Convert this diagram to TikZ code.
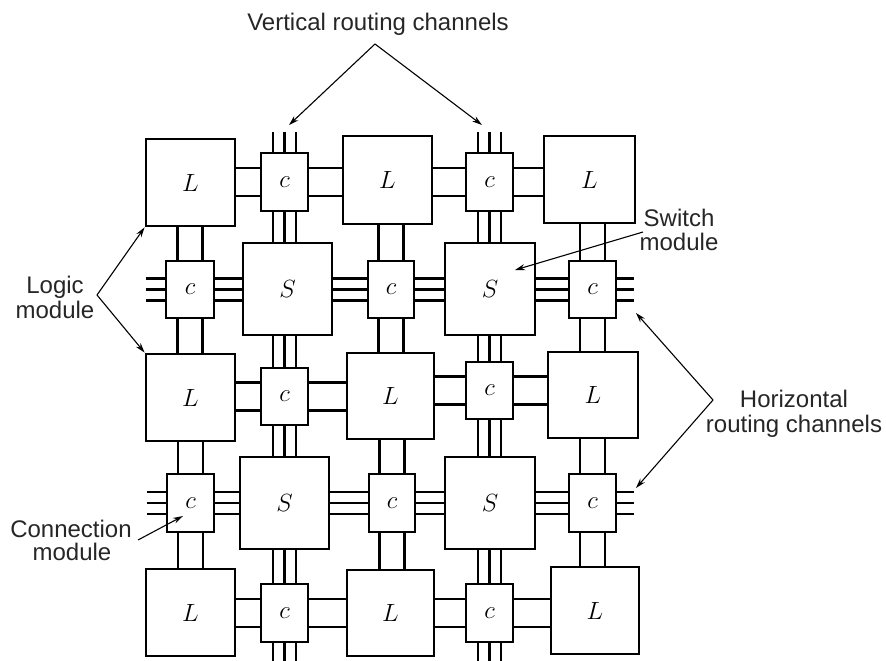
\documentclass[tikz,border=0pt]{standalone}
\usepackage{fontspec}
\setsansfont{Liberation Sans}
\usetikzlibrary{arrows.meta,calc}
\DeclareMathSizes{24}{24}{16}{12}
\tikzset{
  mod/.style={draw, line width=2.8pt, inner sep=0pt, fill=white, font=\fontsize{24}{24}\selectfont},
  wire/.style={line width=2.4pt},
  arr/.style={line width=1.1pt, -{Stealth[length=10pt,width=6pt]}},
  lab/.style={font=\sffamily\fontsize{24}{24}\selectfont, inner sep=0pt, anchor=base, text=black!85},
}
\newcommand\mybox[6]{\node[mod, minimum width={#4-#2}, minimum height={#5-#3}] (#1) at ({(#2+#4)/2},{(#3+#5)/2}) {$#6$};}
\newcommand\hwires[4]{\foreach \d in {#4} {\draw[wire] ($(#1.east |- #3.center)+(0,\d)$) -- ($(#2.west |- #3.center)+(0,\d)$);}}
\newcommand\vwires[4]{\foreach \d in {#4} {\draw[wire] ($(#3.center |- #1.south)+(\d,0)$) -- ($(#3.center |- #2.north)+(\d,0)$);}}
\begin{document}
\begin{tikzpicture}[x=1pt,y=-1pt]
\useasboundingbox (0,0) rectangle (886,661);
% row 1
\mybox{L11}{146}{139}{235}{226}{L}
\mybox{c11}{261}{153}{308}{211}{c}
\mybox{L12}{343}{136}{432}{224}{L}
\mybox{c12}{466}{153}{513}{211}{c}
\mybox{L13}{544}{136}{635}{223}{L}
% row 2
\mybox{c21}{166}{261}{214}{318}{c}
\mybox{S21}{243}{243}{332}{335}{S}
\mybox{c22}{368}{261}{414}{318}{c}
\mybox{S22}{445}{243}{535}{335}{S}
\mybox{c23}{569}{261}{616}{318}{c}
% row 3
\mybox{L31}{146}{354}{235}{441}{L}
\mybox{c31}{261}{368}{308}{425}{c}
\mybox{L32}{347}{353}{434}{439}{L}
\mybox{c32}{466}{362}{513}{419}{c}
\mybox{L33}{548}{352}{638}{438}{L}
% row 4
\mybox{c41}{167}{474}{214}{532}{c}
\mybox{S41}{240}{457}{329}{549}{S}
\mybox{c42}{369}{474}{415}{532}{c}
\mybox{S42}{445}{457}{535}{549}{S}
\mybox{c43}{569}{474}{616}{532}{c}
% row 5
\mybox{L51}{146}{569}{235}{656}{L}
\mybox{c51}{261}{584}{308}{642}{c}
\mybox{L52}{347}{570}{434}{656}{L}
\mybox{c52}{466}{584}{513}{642}{c}
\mybox{L53}{551}{567}{639}{654}{L}
% horizontal double wires (rows 1,3,5)
\foreach \r in {1,3,5}{
  \hwires{L\r1}{c\r1}{c\r1}{-14,14}
  \hwires{c\r1}{L\r2}{c\r1}{-14,14}
  \hwires{L\r2}{c\r2}{c\r2}{-14,14}
  \hwires{c\r2}{L\r3}{c\r2}{-14,14}
}
% horizontal triple wires (rows 2,4)
\foreach \r in {2,4}{
  \hwires{c\r1}{S\r1}{c\r1}{-11,0,11}
  \hwires{S\r1}{c\r2}{c\r2}{-11,0,11}
  \hwires{c\r2}{S\r2}{c\r2}{-11,0,11}
  \hwires{S\r2}{c\r3}{c\r3}{-11,0,11}
}
% vertical double wires in logic columns
\foreach \k in {1,2,3}{
  \vwires{L1\k}{c2\k}{c2\k}{-12.5,12.5}
  \vwires{c2\k}{L3\k}{c2\k}{-12.5,12.5}
  \vwires{L3\k}{c4\k}{c4\k}{-12.5,12.5}
  \vwires{c4\k}{L5\k}{c4\k}{-12.5,12.5}
}
% vertical triple wires in connection columns
\foreach \k in {1,2}{
  \vwires{c1\k}{S2\k}{c1\k}{-11.5,0,11.5}
  \vwires{S2\k}{c3\k}{c3\k}{-11.5,0,11.5}
  \vwires{c3\k}{S4\k}{c3\k}{-11.5,0,11.5}
  \vwires{S4\k}{c5\k}{c5\k}{-11.5,0,11.5}
}
% outer stubs
\foreach \k in {1,2}{
  \foreach \d in {-11.5,0,11.5}{
    \draw[wire] ($(c1\k.north)+(\d,0)$) -- ++(0,-20);
    \draw[wire] ($(c5\k.south)+(\d,0)$) -- ++(0,22);
  }
}
\foreach \r in {2,4}{
  \foreach \d in {-11,0,11}{
    \draw[wire] ($(c\r1.west)+(0,\d)$) -- ++(-19,0);
    \draw[wire] ($(c\r3.east)+(0,\d)$) -- ++(17,0);
  }
}
% labels
\node[lab] (vrc) at (378,31) {Vertical routing channels};
\node[lab] (lm1) at (55,293) {Logic};
\node[lab] (lm2) at (55,318) {module};
\node[lab] (sm1) at (679,226) {Switch};
\node[lab] (sm2) at (679,250) {module};
\node[lab] (hr1) at (794,407) {Horizontal};
\node[lab] (hr2) at (794,432) {routing channels};
\node[lab] (cm1) at (71,537) {Connection};
\node[lab] (cm2) at (72,560) {module};
% arrows
\coordinate (vA) at (375,44);
\coordinate (vT1) at (289,125);
\coordinate (vT2) at (482,125);
\draw[arr] (vA) -- (vT1);
\draw[arr] (vA) -- (vT2);
\coordinate (lA) at (97,295);
\draw[arr] (lA) -- (L11.south west);
\draw[arr] (lA) -- (L31.north west);
\coordinate (sA) at (643,232);
\coordinate (sT) at (515,270);
\draw[arr] (sA) -- (sT);
\coordinate (hA) at (713,400);
\coordinate (hT1) at (636,313);
\coordinate (hT2) at (636,488);
\draw[arr] (hA) -- (hT1);
\draw[arr] (hA) -- (hT2);
\coordinate (cA) at (138,540);
\coordinate (cT) at (183,516);
\draw[arr] (cA) -- (cT);
\end{tikzpicture}
\end{document}
